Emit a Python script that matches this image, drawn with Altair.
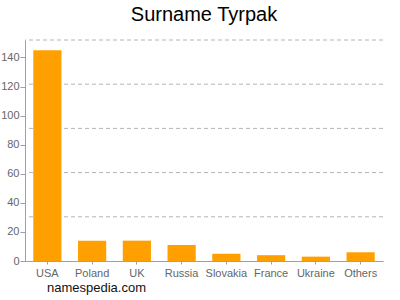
import altair as alt
import pandas as pd

countries = ["USA", "Poland", "UK", "Russia", "Slovakia", "France", "Ukraine", "Others"]
counts = [145, 14, 14, 11, 5, 4, 3, 6]
y_ticks = [0, 20, 40, 60, 80, 100, 120, 140]
grid_vals = [30.4, 60.8, 91.2, 121.6, 152]
title_text = "Surname Tyrpak"
footer_text = "namespedia.com"

df = pd.DataFrame({"country": countries, "count": counts})
grid_df = pd.DataFrame({"g": grid_vals})
title_df = pd.DataFrame({"t": [title_text]})
footer_df = pd.DataFrame({"t": [footer_text]})

FONT = "Liberation Sans"
yscale = alt.Scale(domain=[0, 152], nice=False, zero=True)
yaxis = alt.Axis(title=None, values=y_ticks, grid=False, labelFont=FONT,
                 labelFontSize=11, labelColor="#666666", domainColor="#a0a0a0",
                 tickColor="#a0a0a0", tickSize=5, labelPadding=1)

grid = alt.Chart(grid_df).mark_rule(color="#b4b4b4", strokeDash=[4, 3], strokeWidth=1).encode(
    y=alt.Y("g:Q", scale=yscale, axis=yaxis)
)

bars = alt.Chart(df).mark_bar(color="#FFA000").encode(
    x=alt.X("country:N", sort=countries,
            scale=alt.Scale(paddingInner=0.37, paddingOuter=0.185),
            axis=alt.Axis(title=None, labelAngle=0, labelFont=FONT, labelFontSize=11,
                          labelColor="#666666", domainColor="#a0a0a0", tickColor="#a0a0a0",
                          tickSize=3, labelPadding=3)),
    y=alt.Y("count:Q", scale=yscale, axis=yaxis),
)

title = alt.Chart(title_df).mark_text(
    font=FONT, fontSize=20, color="#000000", align="center", baseline="alphabetic"
).encode(x=alt.value(179), y=alt.value(-19), text="t:N")

footer = alt.Chart(footer_df).mark_text(
    font=FONT, fontSize=13, color="#111111", align="left", baseline="alphabetic"
).encode(x=alt.value(22), y=alt.value(252), text="t:N")

chart = alt.layer(grid, bars, title, footer).properties(
    width=358, height=221,
    autosize=alt.AutoSizeParams(type="none"),
    padding={"left": 25, "top": 40, "right": 17, "bottom": 39},
).configure_view(stroke=None)

chart.save("out.html", embed_options={"renderer": "svg", "actions": False})
